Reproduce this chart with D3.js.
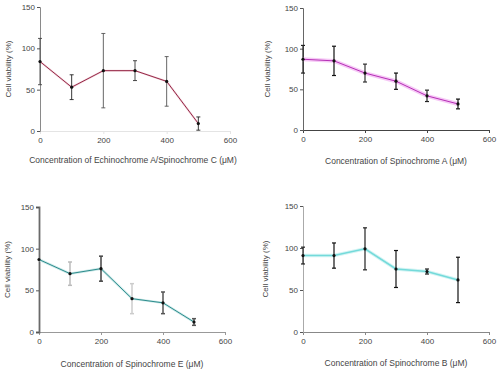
<!DOCTYPE html>
<html>
<head>
<meta charset="utf-8">
<script src="https://cdn.jsdelivr.net/npm/d3@7"></script>
<style>
  html, body { margin: 0; padding: 0; background: #fff; }
  svg { display: block; }
  text { font-family: 'Liberation Sans', Arial, sans-serif; }
</style>
</head>
<body>
<div id="chart"></div>
<script>
(function () {
  'use strict';

  // ---- data ----
  const doses = [0, 100, 200, 300, 400, 500];
  const xTicks = [0, 200, 400, 600];
  const yTicks = [0, 50, 100, 150];

  const viabilityEchC = [84, 53, 73, 73, 60, 9];
  const errEchC       = [28, 15, 45, 12, 30, 8];

  const viabilitySpinA = [87, 85, 70, 60, 42, 32];
  const errSpinA       = [17, 18, 11, 10, 7, 6];

  const viabilitySpinE = [87, 70, 76, 40, 35, 12];
  const errSpinE       = [0, 14, 15, 18, 13, 4];

  const viabilitySpinB = [91, 91, 99, 75, 72, 62];
  const errSpinB       = [10, 15, 25, 22, 3, 27];

  const W = 500, H = 373;

  const PANELS = [
    {
      title: 'Concentration of Echinochrome A/Spinochrome C (\u03bcM)',
      values: viabilityEchC, errs: errEchC,
      x0: 40, x1: 230, yBottom: 131, yTop: 7,
      titleX: 133, titleY: 163, yTitleX: 11,
      yAxisColor: '#8a8a8a', yAxisWidth: 1, xAxisColor: '#e4e4e4',
      line: '#962a48', lineW: 1, halo: '#f3d6de', haloW: 2,
      errColor: ['#444', '#222', '#555', '#333', '#555', '#222'], errW: 0.9,
    },
    {
      title: 'Concentration of Spinochrome A (\u03bcM)',
      values: viabilitySpinA, errs: errSpinA,
      x0: 303, x1: 489, yBottom: 130, yTop: 8,
      titleX: 396, titleY: 164, yTitleX: 270,
      yAxisColor: '#666', yAxisWidth: 1, xAxisColor: '#444',
      line: '#b52fb5', lineW: 1, halo: '#f6c8f6', haloW: 4,
      errColor: ['#222', '#111', '#333', '#111', '#222', '#111'], errW: 1.2,
    },
    {
      title: 'Concentration of Spinochrome E (\u03bcM)',
      values: viabilitySpinE, errs: errSpinE,
      x0: 39, x1: 225, yBottom: 332, yTop: 207,
      titleX: 132, titleY: 367, yTitleX: 10,
      yAxisColor: '#6a6a6a', yAxisWidth: 1.8, xAxisColor: '#999',
      line: '#2c8c8c', lineW: 1, halo: '#cde9e9', haloW: 2.5,
      errColor: ['#666', '#bbb', '#444', '#ccc', '#555', '#555'], errW: 1.5,
    },
    {
      title: 'Concentration of Spinochrome B (\u03bcM)',
      values: viabilitySpinB, errs: errSpinB,
      x0: 303, x1: 489, yBottom: 332, yTop: 206,
      titleX: 396, titleY: 366, yTitleX: 268,
      yAxisColor: '#aaa', yAxisWidth: 1, xAxisColor: '#888',
      line: '#74dada', lineW: 1.6, halo: '#d4f4f4', haloW: 3.5,
      errColor: ['#222', '#111', '#222', '#111', '#222', '#111'], errW: 1.2,
    },
  ];

  const svg = d3.select('#chart').append('svg')
    .attr('width', W).attr('height', H);

  PANELS.forEach(drawPanel);

  function drawPanel(p) {
    const x = d3.scaleLinear().domain([0, 600]).range([p.x0, p.x1]);
    const y = d3.scaleLinear().domain([0, 150]).range([p.yBottom, p.yTop]);
    const g = svg.append('g');

    // x axis
    const xa = g.append('g')
      .attr('transform', `translate(0,${p.yBottom})`)
      .call(d3.axisBottom(x).tickValues(xTicks).tickSize(3).tickPadding(3));
    xa.select('.domain').attr('stroke', p.xAxisColor);
    xa.selectAll('.tick line').attr('stroke', p.xAxisColor);
    xa.selectAll('text').attr('font-size', 8).attr('fill', '#444')
      .attr('font-family', "'Liberation Sans', Arial, sans-serif");

    // y axis
    const ya = g.append('g')
      .attr('transform', `translate(${p.x0},0)`)
      .call(d3.axisLeft(y).tickValues(yTicks).tickSize(3).tickPadding(2));
    ya.select('.domain').attr('stroke', p.yAxisColor).attr('stroke-width', p.yAxisWidth);
    ya.selectAll('.tick line').attr('stroke', '#555');
    ya.selectAll('text').attr('font-size', 8).attr('fill', '#444')
      .attr('font-family', "'Liberation Sans', Arial, sans-serif");

    const pts = doses.map((d, i) => ({ dose: d, v: p.values[i], e: p.errs[i], c: p.errColor[i] }));

    const line = d3.line().x(d => x(d.dose)).y(d => y(d.v));

    g.append('path').datum(pts)
      .attr('d', line).attr('fill', 'none')
      .attr('stroke', p.halo).attr('stroke-width', p.haloW);
    g.append('path').datum(pts)
      .attr('d', line).attr('fill', 'none')
      .attr('stroke', p.line).attr('stroke-width', p.lineW);

    // error bars
    const eb = g.selectAll('g.err').data(pts.filter(d => d.e > 0)).join('g')
      .attr('class', 'err')
      .attr('stroke', d => d.c).attr('stroke-width', p.errW);
    eb.append('line')
      .attr('x1', d => x(d.dose)).attr('x2', d => x(d.dose))
      .attr('y1', d => y(d.v - d.e)).attr('y2', d => y(d.v + d.e));
    eb.append('line')
      .attr('x1', d => x(d.dose) - 2).attr('x2', d => x(d.dose) + 2)
      .attr('y1', d => y(d.v + d.e)).attr('y2', d => y(d.v + d.e));
    eb.append('line')
      .attr('x1', d => x(d.dose) - 2).attr('x2', d => x(d.dose) + 2)
      .attr('y1', d => y(d.v - d.e)).attr('y2', d => y(d.v - d.e));

    // points
    g.selectAll('circle.pt').data(pts).join('circle')
      .attr('class', 'pt')
      .attr('cx', d => x(d.dose)).attr('cy', d => y(d.v))
      .attr('r', 1.6).attr('fill', '#111');

    // titles
    g.append('text')
      .attr('x', p.titleX).attr('y', p.titleY)
      .attr('text-anchor', 'middle')
      .attr('font-size', 8.5).attr('fill', '#444')
      .text(p.title);

    g.append('text')
      .attr('transform', `translate(${p.yTitleX},${(p.yBottom + p.yTop) / 2}) rotate(-90)`)
      .attr('text-anchor', 'middle')
      .attr('font-size', 8).attr('fill', '#444')
      .text('Cell viability (%)');
  }
})();
</script>
</body>
</html>
